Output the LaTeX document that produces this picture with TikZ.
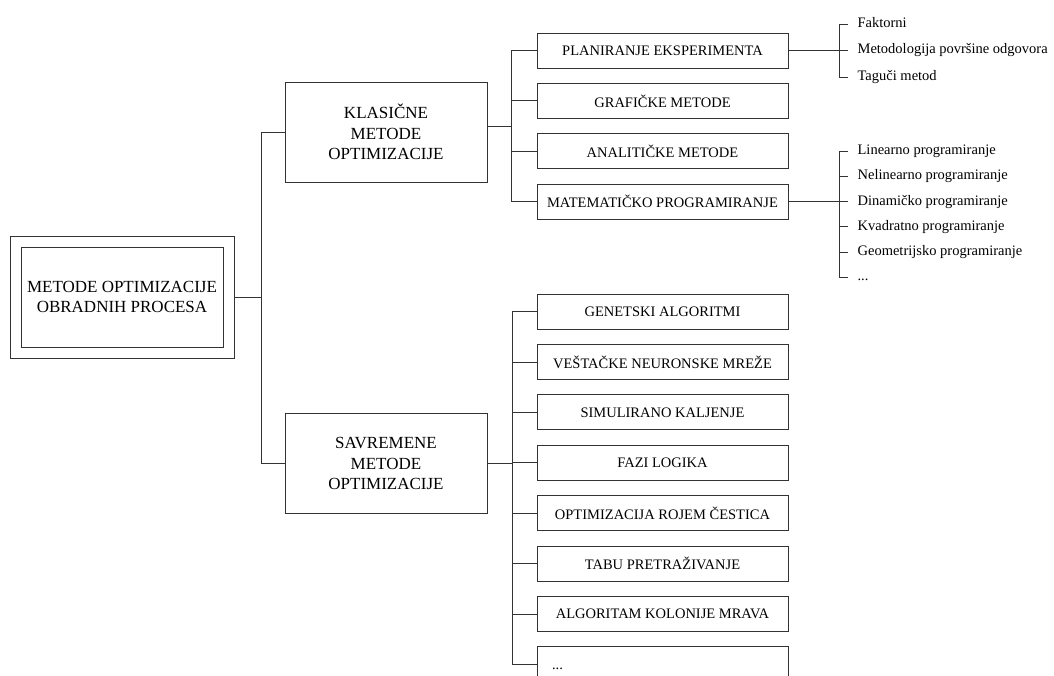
\documentclass[tikz,border=0pt]{standalone}
\usepackage{fontspec}
\setmainfont{Liberation Serif}
\usetikzlibrary{positioning, fit}

\begin{document}
\begin{tikzpicture}[
    x=1pt, y=-1pt,
    node distance=14.6pt and 69pt,
    conn/.style={draw=black!80, line width=0.8pt},
    rootbox/.style={conn, minimum width=202pt, minimum height=100pt, align=center, font=\fontsize{17}{20.5}\selectfont},
    groupbox/.style={conn, minimum width=202pt, minimum height=100pt, align=center, font=\fontsize{17}{20.5}\selectfont},
    leaf/.style={conn, minimum width=251pt, minimum height=35pt, inner xsep=2pt, align=center, font=\fontsize{14.5}{17}\selectfont},
    item/.style={anchor=west, inner sep=0pt, text height=10pt, text depth=3pt, font=\fontsize{14.5}{17}\selectfont}
]
    \useasboundingbox (0,0) rectangle (1054,676);

    % Root with double frame
    \node[rootbox] (root) at (122,297) {METODE OPTIMIZACIJE\\OBRADNIH PROCESA};
    \node[conn, fit=(root), inner sep=10.5pt] (frame) {};

    % Two main groups
    \node[groupbox] (kls) at (386,132) {KLASIČNE\\METODE\\OPTIMIZACIJE};
    \node[groupbox] (sav) at (386,463.5) {SAVREMENE\\METODE\\OPTIMIZACIJE};

    % Classic methods
    \node[leaf] (plan) at (662.5,50.5) {PLANIRANJE EKSPERIMENTA};
    \node[leaf, below=of plan] (graf) {GRAFIČKE METODE};
    \node[leaf, below=of graf] (anal) {ANALITIČKE METODE};
    \node[leaf, below=of anal] (mat) {MATEMATIČKO PROGRAMIRANJE};

    % Modern methods
    \node[leaf] (gen) at (662.5,311.5) {GENETSKI ALGORITMI};
    \node[leaf, below=of gen] (neur) {VEŠTAČKE NEURONSKE MREŽE};
    \node[leaf, below=of neur] (kal) {SIMULIRANO KALJENJE};
    \node[leaf, below=of kal] (fazi) {FAZI LOGIKA};
    \node[leaf, below=of fazi] (roj) {OPTIMIZACIJA ROJEM ČESTICA};
    \node[leaf, below=of roj] (tabu) {TABU PRETRAŽIVANJE};
    \node[leaf, below=of tabu] (mrav) {ALGORITAM KOLONIJE MRAVA};
    \node[leaf, below=of mrav, text width=221pt, inner xsep=15pt, align=left] (more) {\smash{\raisebox{-5pt}{...}}};

    % Experiment design list
    \node[item, right=of plan] (metod) {Metodologija površine odgovora};
    \node[item] (fakt) at ([yshift=26.5pt]metod.west) {Faktorni};
    \node[item] (tag) at ([yshift=-26.5pt]metod.west) {Taguči metod};

    % Mathematical programming list
    \node[item, right=of mat] (din) {Dinamičko programiranje};
    \node[item] (lin) at ([yshift=50.4pt]din.west) {Linearno programiranje};
    \node[item] (nel) at ([yshift=25.2pt]din.west) {Nelinearno programiranje};
    \node[item] (kva) at ([yshift=-25.2pt]din.west) {Kvadratno programiranje};
    \node[item] (geo) at ([yshift=-50.4pt]din.west) {Geometrijsko programiranje};
    \node[item] (etc) at ([yshift=-75.6pt]din.west) {...};

    % Bus points
    \coordinate (trunk) at ([xshift=27pt]frame.east);
    \coordinate (kbus) at ([xshift=24pt,yshift=6pt]kls.east);
    \coordinate (sbus) at ([xshift=25pt]sav.east);
    \coordinate (pbr) at ([xshift=51pt]plan.east);
    \coordinate (mbr) at ([xshift=51pt]mat.east);

    % Trunk
    \draw[conn] (frame.east) -- (trunk);
    \draw[conn] (trunk |- kls.west) -- (trunk |- sav.west);
    \draw[conn] (trunk |- kls.west) -- (kls.west);
    \draw[conn] (trunk |- sav.west) -- (sav.west);

    % Classic branch
    \draw[conn] (kls.east |- kbus) -- (kbus);
    \draw[conn] (kbus |- plan.west) -- (kbus |- mat.west);
    \draw[conn] (kbus |- plan.west) -- (plan.west);
    \draw[conn] (kbus |- graf.west) -- (graf.west);
    \draw[conn] (kbus |- anal.west) -- (anal.west);
    \draw[conn] (kbus |- mat.west) -- (mat.west);

    % Modern branch
    \draw[conn] (sav.east) -- (sbus);
    \draw[conn] (sbus |- gen.west) -- (sbus |- more.west);
    \draw[conn] (sbus |- gen.west) -- (gen.west);
    \draw[conn] (sbus |- neur.west) -- (neur.west);
    \draw[conn] (sbus |- kal.west) -- (kal.west);
    \draw[conn] (sbus |- fazi.west) -- (fazi.west);
    \draw[conn] (sbus |- roj.west) -- (roj.west);
    \draw[conn] (sbus |- tabu.west) -- (tabu.west);
    \draw[conn] (sbus |- mrav.west) -- (mrav.west);
    \draw[conn] (sbus |- more.west) -- (more.west);

    % Brackets of the lists
    \draw[conn] (plan.east) -- ([xshift=-9pt]metod.west);
    \draw[conn] (pbr |- fakt.west) -- (pbr |- tag.west);
    \draw[conn] (pbr |- fakt.west) -- ([xshift=-9pt]fakt.west);
    \draw[conn] (pbr |- tag.west) -- ([xshift=-9pt]tag.west);

    \draw[conn] (mat.east) -- ([xshift=-9pt]din.west);
    \draw[conn] (mbr |- lin.west) -- (mbr |- etc.west);
    \draw[conn] (mbr |- lin.west) -- ([xshift=-9pt]lin.west);
    \draw[conn] (mbr |- nel.west) -- ([xshift=-9pt]nel.west);
    \draw[conn] (mbr |- kva.west) -- ([xshift=-9pt]kva.west);
    \draw[conn] (mbr |- geo.west) -- ([xshift=-9pt]geo.west);
    \draw[conn] (mbr |- etc.west) -- ([xshift=-9pt]etc.west);
\end{tikzpicture}
\end{document}
